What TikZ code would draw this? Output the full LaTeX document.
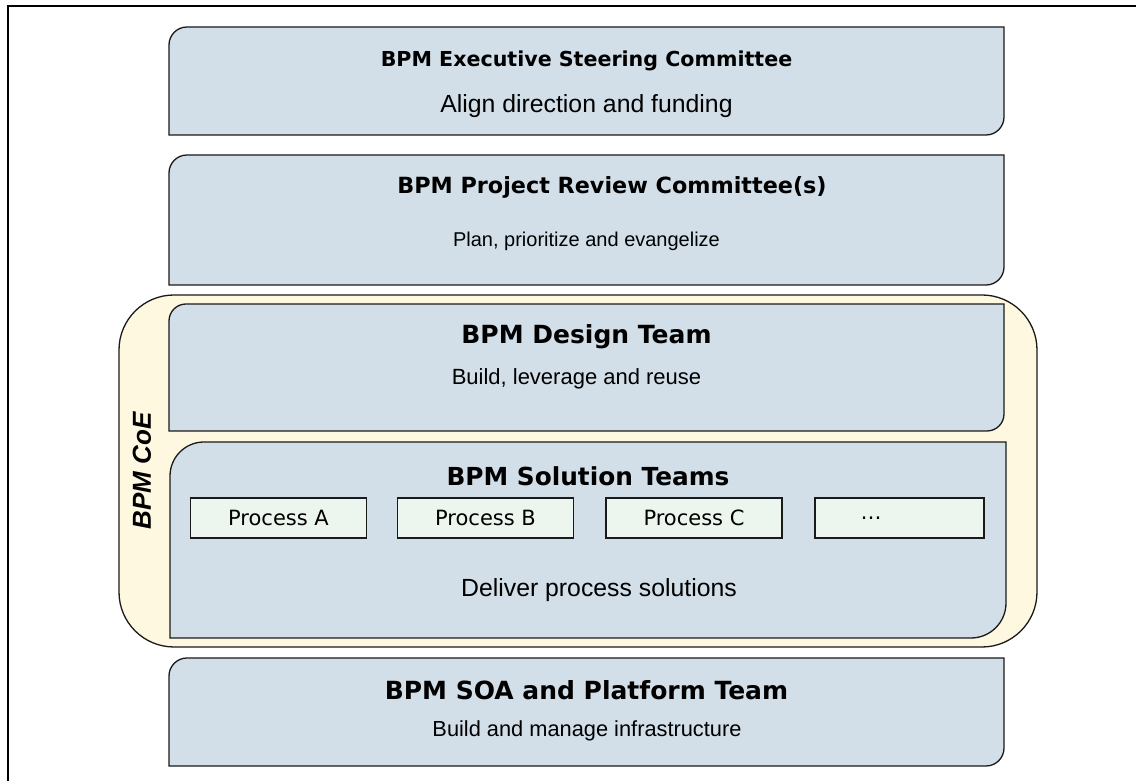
\documentclass[tikz,border=0pt]{standalone}
\usepackage{fontspec}
\setmainfont{Liberation Sans}
\newfontfamily\verd{DejaVu Sans}
\definecolor{panelblue}{HTML}{D2DFE8}
\definecolor{procgreen}{HTML}{EDF6EE}
\definecolor{coeyellow}{HTML}{FFF8E1}
\definecolor{edge}{HTML}{1A1A1A}
\newcommand\dpanel[7]{\draw[#1] (#2,#3) -- (#2,{#5-#6}) arc[start angle=180,end angle=90,radius=#6] -- (#4,#5) -- (#4,{#3+#7}) arc[start angle=0,end angle=-90,radius=#7] -- cycle;}
\newcommand\fsz[1]{\fontsize{#1}{#1}\selectfont}
\tikzset{
  panel/.style={draw=edge, line width=1.3pt, fill=panelblue},
  coebox/.style={draw=edge, line width=1.3pt, fill=coeyellow, rounded corners=55pt},
  procbox/.style={draw=edge, line width=1.2pt, fill=procgreen, minimum width=176pt, minimum height=40pt, inner sep=0pt, font=\verd\fsz{21}},
  title/.style={font=\verd\bfseries, inner sep=0pt},
  sub/.style={inner sep=0pt},
}
\begin{document}
\begin{tikzpicture}[x=1pt,y=1pt]
\useasboundingbox (0,0) rectangle (1136,781);
\fill[white] (0,0) rectangle (1136,781);
\draw[line width=1.5pt] (8,0) -- (8,775) -- (1136,775);
% top panels
\dpanel{panel}{169}{646}{1004}{754}{18}{18}
\node[title] (est) at (586.5,720) {\fsz{20.6}BPM Executive Steering Committee};
\node[sub] (estsub) at (586.5,675) {\fsz{24.8}Align direction and funding};
\dpanel{panel}{169}{496}{1004}{626}{18}{18}
\node[title] (prc) at (612,594) {\fsz{22.3}BPM Project Review Committee(s)};
\node[sub] (prcsub) at (586.5,540) {\fsz{20}Plan, prioritize and evangelize};
% CoE
\draw[coebox] (119,134) rectangle (1037,486);
\node[font=\bfseries\itshape\fsz{26}, rotate=90, inner sep=0pt] (coe) at (142,310) {BPM CoE};
\dpanel{panel}{169}{350}{1004}{477}{17}{17}
\node[title] (dt) at (586.5,444) {\fsz{25}BPM Design Team};
\node[sub] (dtsub) at (576.5,402) {\fsz{22}Build, leverage and reuse};
\dpanel{panel}{170}{143}{1006}{339}{34}{35}
\node[title] (st) at (588,305) {\fsz{24.8}BPM Solution Teams};
\node[procbox] (pa) at (278.5,263) {Process A};
\node[procbox] (pb) at (485.5,263) {Process B};
\node[procbox] (pc) at (694,263) {Process C};
\node[procbox, minimum width=169pt, text width=150pt, align=left] (pd) at (899.5,263) {\hspace*{36pt}\dots};
\node[sub] (stsub) at (599,191) {\fsz{24.8}Deliver process solutions};
% bottom
\dpanel{panel}{169}{15}{1004}{123}{18}{18}
\node[title] (soa) at (586.5,91) {\fsz{25}BPM SOA and Platform Team};
\node[sub] (soasub) at (587,50) {\fsz{21.8}Build and manage infrastructure};
\end{tikzpicture}
\end{document}
